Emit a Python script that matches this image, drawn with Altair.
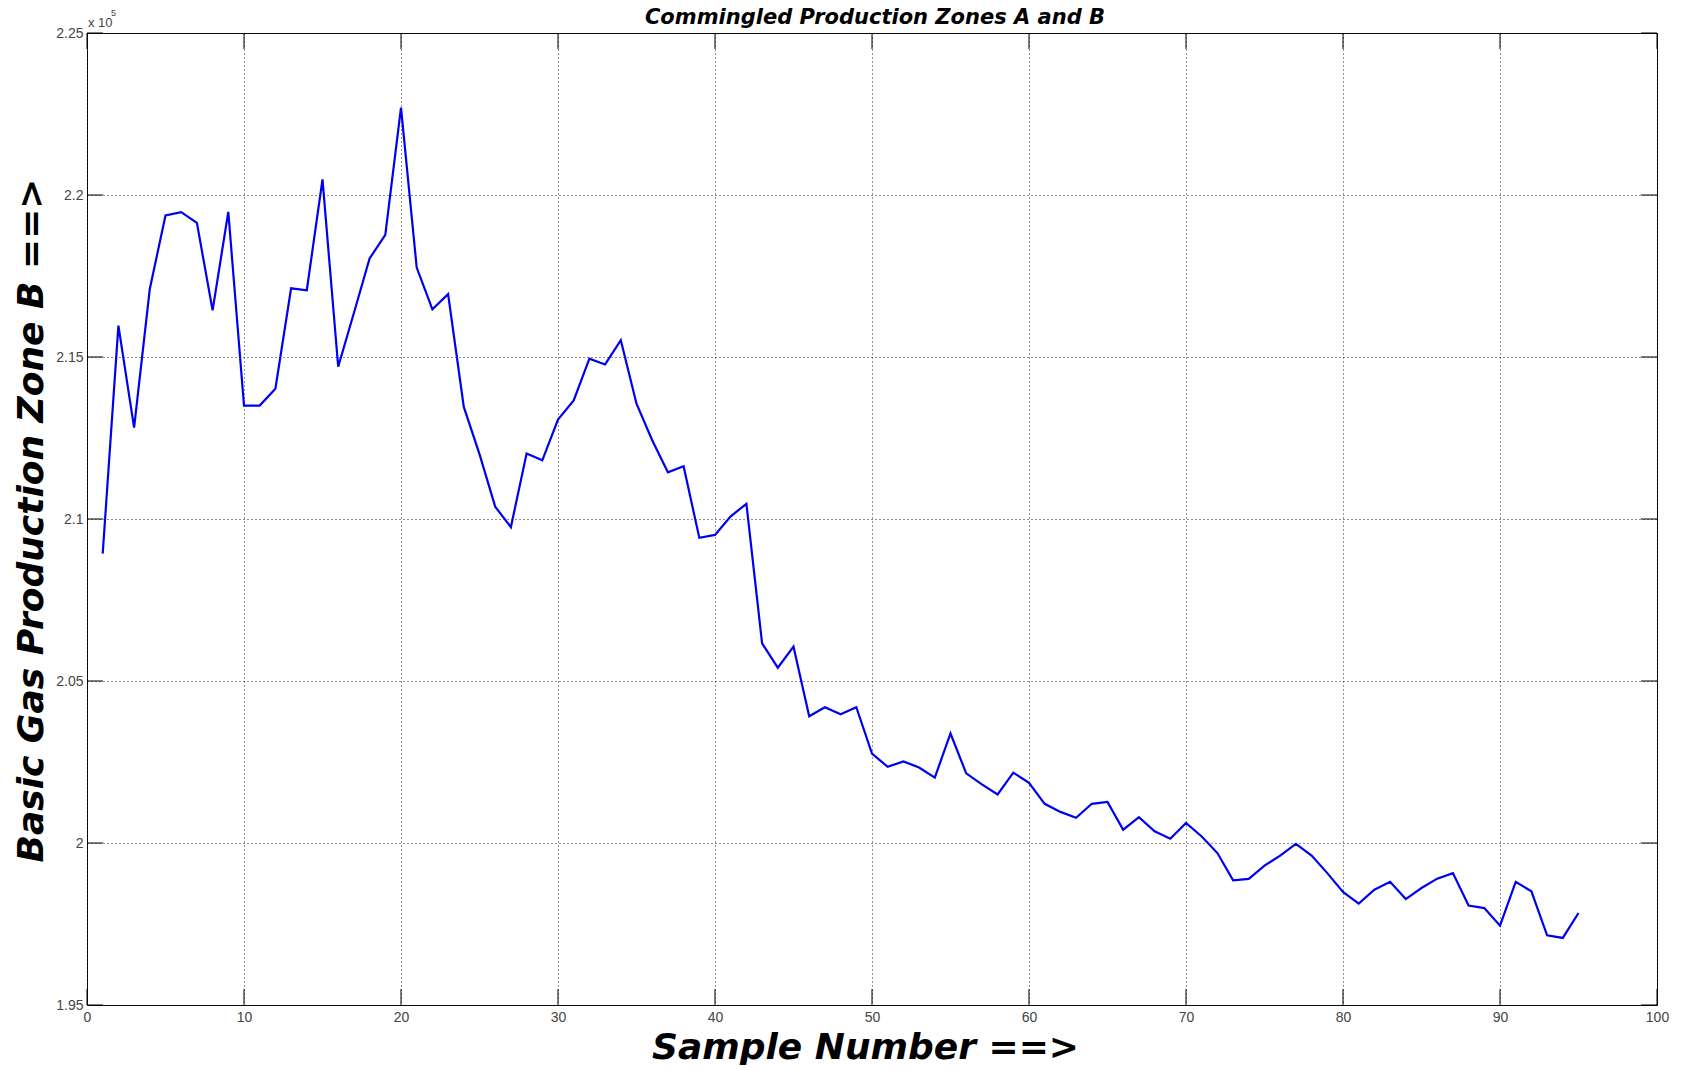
import altair as alt
import pandas as pd

# ---- data ----
sample = list(range(1, 96))
gas = [
    208930, 215970, 212820, 217100, 219370, 219470, 219140, 216440, 219480, 213500,
    213500, 214020, 217120, 217060, 220480, 214700, 216360, 218040, 218770, 222700,
    217760, 216470, 216940, 213460, 212000, 210380, 209750, 212020, 211810, 213070,
    213660, 214950, 214770, 215520, 213560, 212430, 211440, 211630, 209420, 209510,
    210080, 210470, 206160, 205410, 206060, 203910, 204190, 203970, 204190, 202760,
    202350, 202520, 202330, 202020, 203380, 202150, 201810, 201500, 202170, 201860,
    201210, 200960, 200780, 201210, 201270, 200410, 200800, 200360, 200130, 200620,
    200200, 199690, 198850, 198890, 199300, 199610, 199970, 199610, 199070, 198490,
    198130, 198560, 198800, 198270, 198610, 198900, 199070, 198070, 197990, 197450,
    198800, 198510, 197150, 197070, 197840,
]
x_ticks = [0, 10, 20, 30, 40, 50, 60, 70, 80, 90, 100]
y_ticks = [195000, 200000, 205000, 210000, 215000, 220000, 225000]

title_text = "Commingled Production Zones A and B"
x_title = "Sample Number ==>"
y_title = "Basic Gas Production Zone B ==>"
exp_base = "x 10"
exp_power = "5"

W, H = 1570, 972

df = pd.DataFrame({"sample": sample, "gas": gas})
xt = pd.DataFrame({"xt": x_ticks})
yt = pd.DataFrame({"yt": y_ticks})

xscale = alt.Scale(domain=[0, 100], nice=False, zero=False)
yscale = alt.Scale(domain=[195000, 225000], nice=False, zero=False)

label_font = "Liberation Sans"
title_font = "DejaVu Sans"

x_axis = alt.Axis(
    values=x_ticks, grid=True, gridDash=[1, 3], gridColor="#222222", gridWidth=1,
    domain=False, ticks=False, tickSize=0, labelFlush=False, labelOverlap=False,
    labelFont=label_font, labelFontSize=14, labelColor="#444444", labelPadding=5,
    title=x_title, titleFont=title_font, titleFontSize=36, titleFontWeight="bold",
    titleFontStyle="italic", titleColor="black", titleBaseline="alphabetic",
    titleY=53, titleX=778, titleAlign="center",
)
y_axis = alt.Axis(
    values=y_ticks, grid=True, gridDash=[1, 3], gridColor="#222222", gridWidth=1,
    domain=False, ticks=False, tickSize=0, labelFlush=False, labelOverlap=False,
    labelExpr="toString(round(datum.value / 1000) / 100)",
    labelFont=label_font, labelFontSize=14, labelColor="#444444", labelPadding=4,
    title=y_title, titleFont=title_font, titleFontSize=36, titleFontWeight="bold",
    titleFontStyle="italic", titleColor="black", titleBaseline="alphabetic",
    titleAngle=270, titleX=-45, titleY=487, titleAlign="center",
)

line = alt.Chart(df).mark_line(color="#0000f0", strokeWidth=2.2).encode(
    x=alt.X("sample:Q", scale=xscale, axis=x_axis),
    y=alt.Y("gas:Q", scale=yscale, axis=y_axis),
)

tick_len = 16
xt_bottom = alt.Chart(xt).mark_rule(color="black", strokeWidth=1).encode(
    x=alt.X("xt:Q", scale=xscale),
    y=alt.value(H), y2=alt.value(H - tick_len),
)
xt_top = alt.Chart(xt).mark_rule(color="black", strokeWidth=1).encode(
    x=alt.X("xt:Q", scale=xscale),
    y=alt.value(0), y2=alt.value(tick_len),
)
yt_left = alt.Chart(yt).mark_rule(color="black", strokeWidth=1).encode(
    y=alt.Y("yt:Q", scale=yscale),
    x=alt.value(0), x2=alt.value(tick_len),
)
yt_right = alt.Chart(yt).mark_rule(color="black", strokeWidth=1).encode(
    y=alt.Y("yt:Q", scale=yscale),
    x=alt.value(W), x2=alt.value(W - tick_len),
)

exp1 = alt.Chart(pd.DataFrame({"t": [exp_base]})).mark_text(
    font=label_font, fontSize=13, color="#444444", align="left", baseline="alphabetic"
).encode(x=alt.value(1), y=alt.value(-6), text="t:N")
exp2 = alt.Chart(pd.DataFrame({"t": [exp_power]})).mark_text(
    font=label_font, fontSize=9, color="#444444", align="left", baseline="alphabetic"
).encode(x=alt.value(24), y=alt.value(-17), text="t:N")
ttl = alt.Chart(pd.DataFrame({"t": [title_text]})).mark_text(
    font=title_font, fontSize=21, fontWeight="bold", fontStyle="italic",
    color="black", align="center", baseline="alphabetic"
).encode(x=alt.value(W / 2 + 3), y=alt.value(-9), text="t:N")

chart = alt.layer(line, xt_bottom, xt_top, yt_left, yt_right, exp1, exp2, ttl).properties(
    width=W, height=H,
    autosize=alt.AutoSizeParams(type="none"),
    padding={"left": 79, "top": 25, "right": 17, "bottom": 60},
).configure_view(stroke="black", strokeWidth=1)

chart.save("out.html", embed_options={"renderer": "svg", "actions": False})
